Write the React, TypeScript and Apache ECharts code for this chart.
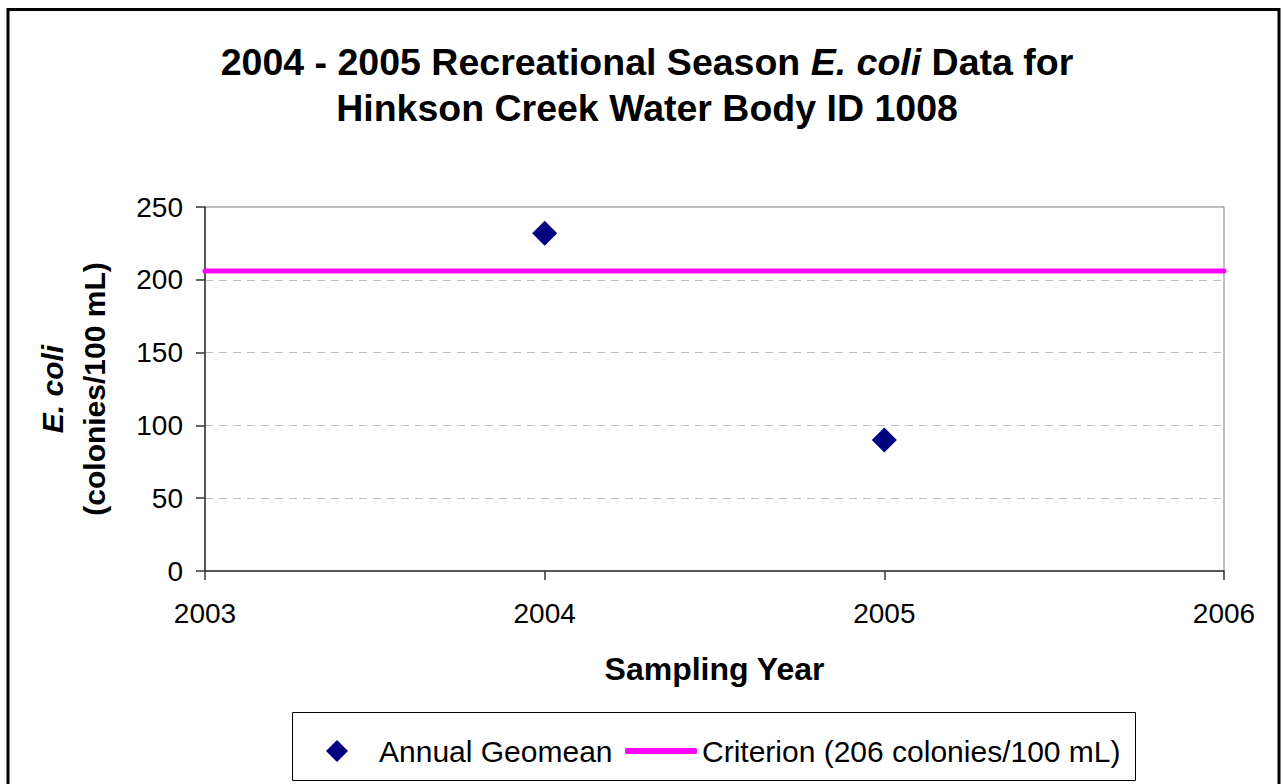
import React, { useEffect, useRef } from "react";
import * as echarts from "echarts";

const sampleYears = [2004, 2005];
const annualGeomean = [232, 90];
const criterionYears = [2003, 2006];
const criterionValue = 206;
const xRange = [2003, 2006];
const yRange = [0, 250];

const FONT = '"Liberation Sans", Arial, sans-serif';

export default function App() {
  const ref = useRef<HTMLDivElement>(null);
  useEffect(() => {
    document.body.style.margin = "0";
    const chart = echarts.init(ref.current!, null, { renderer: "svg" });
    chart.setOption({
      animation: false,
      backgroundColor: "#ffffff",
      textStyle: { fontFamily: FONT, color: "#000" },
      title: {
        text: "2004 - 2005 Recreational Season {i|E. coli} Data for\nHinkson Creek Water Body ID 1008",
        left: 642,
        textAlign: "center",
        top: 34,
        textStyle: {
          fontFamily: FONT,
          fontSize: 37.5,
          fontWeight: "bold",
          color: "#000",
          lineHeight: 46,
          rich: {
            i: { fontFamily: FONT, fontSize: 37.5, fontWeight: "bold", fontStyle: "italic", color: "#000", lineHeight: 46 },
          },
        },
      },
      grid: {
        left: 205,
        top: 207,
        right: 60,
        bottom: 213,
        show: true,
        borderColor: "#808080",
        borderWidth: 1,
        backgroundColor: "#ffffff",
      },
      legend: [
        {
          data: [{ name: "Annual Geomean", icon: "diamond" }],
          left: 326,
          top: 736,
          padding: 0,
          itemWidth: 22,
          itemHeight: 22,
          textStyle: { fontFamily: FONT, fontSize: 30, color: "#000", padding: [0, 0, 0, 26] },
        },
        {
          data: [{ name: "Criterion (206 colonies/100 mL)", icon: "roundRect" }],
          left: 625,
          top: 736,
          padding: 0,
          itemWidth: 72,
          itemHeight: 6,
          itemStyle: { color: "#ff00ff" },
          textStyle: { fontFamily: FONT, fontSize: 30, color: "#000" },
        },
      ],
      xAxis: {
        type: "value",
        min: xRange[0],
        max: xRange[1],
        interval: 1,
        name: "Sampling Year",
        nameLocation: "middle",
        nameGap: 82,
        nameTextStyle: { fontFamily: FONT, fontSize: 32, fontWeight: "bold", color: "#000" },
        axisLine: { show: true, lineStyle: { color: "#333", width: 1.5 } },
        axisTick: { show: true, length: 9, lineStyle: { color: "#333", width: 1.5 } },
        axisLabel: { fontFamily: FONT, fontSize: 28, color: "#000", margin: 28, formatter: (v: number) => String(v) },
        splitLine: { show: false },
      },
      yAxis: {
        type: "value",
        min: yRange[0],
        max: yRange[1],
        interval: 50,
        name: "{i|E. coli}\n{b|(colonies/100 mL)}",
        nameLocation: "middle",
        nameRotate: 90,
        nameGap: 90,
        nameTextStyle: {
          fontFamily: FONT,
          fontSize: 30,
          fontWeight: "bold",
          color: "#000",
          rich: {
            i: { fontFamily: FONT, fontSize: 30, fontWeight: "bold", fontStyle: "italic", color: "#000", lineHeight: 42 },
            b: { fontFamily: FONT, fontSize: 30, fontWeight: "bold", color: "#000", lineHeight: 42 },
          },
        },
        axisLine: { show: true, lineStyle: { color: "#333", width: 1.5 } },
        axisTick: { show: true, length: 9, lineStyle: { color: "#333", width: 1.5 } },
        axisLabel: { fontFamily: FONT, fontSize: 28, color: "#000", margin: 22 },
        splitLine: {
          show: true,
          showMinLine: false,
          showMaxLine: false,
          lineStyle: { color: "#c0c0c0", type: [8, 6], width: 1 },
        },
      },
      series: [
        {
          name: "Criterion (206 colonies/100 mL)",
          type: "line",
          data: criterionYears.map((x) => [x, criterionValue]),
          symbol: "none",
          lineStyle: { color: "#ff00ff", width: 5, cap: "round" },
          itemStyle: { color: "#ff00ff" },
          z: 2,
        },
        {
          name: "Annual Geomean",
          type: "scatter",
          data: sampleYears.map((x, i) => [x, annualGeomean[i]]),
          symbol: "diamond",
          symbolSize: 25,
          itemStyle: { color: "#000080", opacity: 1 },
          z: 3,
        },
      ],
      graphic: [
        {
          type: "rect",
          shape: { x: 8, y: 9.5, width: 1271, height: 790 },
          style: { fill: "none", stroke: "#000", lineWidth: 3 },
          silent: true,
          z: 10,
        },
        {
          type: "rect",
          shape: { x: 292.5, y: 712.5, width: 843, height: 68 },
          style: { fill: "none", stroke: "#000", lineWidth: 1 },
          silent: true,
          z: 10,
        },
      ],
    });
    return () => chart.dispose();
  }, []);
  return <div ref={ref} style={{ position: "fixed", left: 0, top: 0, width: 1284, height: 784 }} />;
}
